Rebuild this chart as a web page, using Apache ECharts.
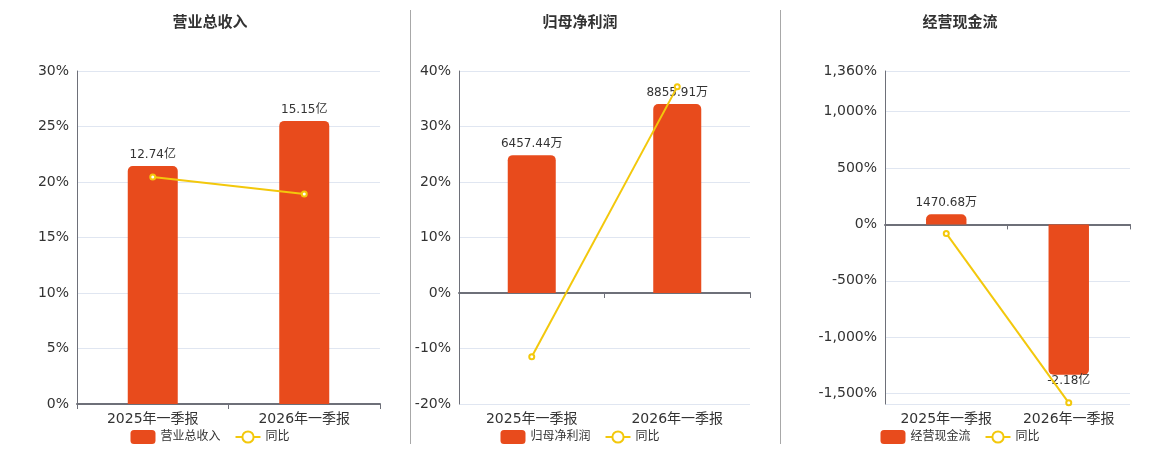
<!DOCTYPE html>
<html>
<head>
<meta charset="utf-8">
<title>季报</title>
<script src="https://cdn.jsdelivr.net/npm/echarts@6/dist/echarts.min.js"></script>
<style>
  html, body { margin: 0; padding: 0; background: #fff; }
  #wrap { position: relative; width: 1160px; height: 450px; }
  .panel { position: absolute; top: 0; height: 450px; }
  .sep { position: absolute; top: 10px; height: 434px; width: 1px; background: #a8a8a8; }
</style>
</head>
<body>
<div id="wrap">
  <div id="chart1" class="panel" style="left:0;width:420px"></div>
  <div id="chart2" class="panel" style="left:400px;width:360px"></div>
  <div id="chart3" class="panel" style="left:780px;width:360px"></div>
  <div class="sep" style="left:410px"></div>
  <div class="sep" style="left:780px"></div>
</div>
<script>
// 数据
var categories = ['2025年一季报', '2026年一季报'];

var revenue = [12.74, 15.15];          // 亿
var revenueYoy = [20.44, 18.92];       // %

var netProfit = [6457.44, 8855.91];    // 万
var netProfitYoy = [-11.5, 37.14];     // %

var cashFlow = [1470.68, -21800];      // 万
var cashFlowYoy = [-80, -1582];        // %

var FONT = '"DejaVu Sans", "Noto Sans CJK SC", sans-serif';
var BAR_COLOR = '#E84B1C';
var LINE_COLOR = '#F3C80C';

function fmtWan(v) {
    if (Math.abs(v) >= 10000) return (v / 10000).toFixed(2) + '亿';
    return v.toFixed(2) + '万';
}

function pctLabel(v) {
    return v.toLocaleString('en-US') + '%';
}

// 生成单个面板的配置
function makeOption(cfg) {
    return {
        animation: false,
        textStyle: { fontFamily: FONT },
        title: {
            text: cfg.title,
            left: 'center',
            top: 11,
            textStyle: { fontSize: 15, fontWeight: 'bold', color: '#333', fontFamily: FONT }
        },
        legend: {
            left: 'center',
            top: 425,
            itemWidth: 25,
            itemHeight: 14,
            itemGap: 14,
            textStyle: { fontSize: 12, color: '#333', fontFamily: FONT },
            data: [
                { name: cfg.name, icon: 'roundRect' },
                { name: '同比' }
            ]
        },
        grid: {
            left: cfg.gridLeft,
            width: cfg.gridWidth,
            top: 71,
            height: 333,
            containLabel: false
        },
        xAxis: [
            {
                type: 'category',
                data: categories,
                position: 'bottom',
                axisLine: { show: false, onZero: false },
                axisTick: { show: false },
                axisLabel: { fontSize: 14, color: '#333', margin: 8, fontFamily: FONT }
            },
            {
                type: 'category',
                data: categories,
                position: 'bottom',
                axisLine: { show: true, onZero: true, onZeroAxisIndex: 0, lineStyle: { color: '#6E7079', width: 2 } },
                axisTick: { show: true, lineStyle: { color: '#6E7079' } },
                axisLabel: { show: false }
            }
        ],
        yAxis: [
            {
                type: 'value',
                min: cfg.pctMin,
                max: cfg.pctMax,
                interval: cfg.pctInterval,
                axisLine: { show: true, lineStyle: { color: '#6E7079' } },
                axisTick: { show: false },
                axisLabel: {
                    fontSize: 14, color: '#333', fontFamily: FONT,
                    showMinLabel: cfg.showMinLabel,
                    formatter: pctLabel
                },
                splitLine: { lineStyle: { color: '#E0E6F1' } }
            },
            {
                type: 'value',
                min: cfg.barMin,
                max: cfg.barMax,
                show: false,
                splitLine: { show: false }
            }
        ],
        series: [
            {
                name: cfg.name,
                type: 'bar',
                xAxisIndex: 0,
                yAxisIndex: 1,
                barWidth: '33%',
                itemStyle: { color: BAR_COLOR },
                data: cfg.bars.map(function (v) {
                    return {
                        value: v,
                        itemStyle: { borderRadius: v < 0 ? [0, 0, 5, 5] : [5, 5, 0, 0] },
                        label: v < 0 ? { position: 'bottom', distance: 0 } : { position: 'top', distance: 5 }
                    };
                }),
                label: {
                    show: true,
                    fontSize: 12,
                    color: '#333',
                    fontFamily: FONT,
                    formatter: function (p) { return cfg.barLabel(p.value); }
                }
            },
            {
                name: '同比',
                type: 'line',
                xAxisIndex: 0,
                yAxisIndex: 0,
                symbol: 'emptyCircle',
                symbolSize: 5,
                z: 5,
                itemStyle: { color: LINE_COLOR, borderWidth: 1.5 },
                lineStyle: { color: LINE_COLOR, width: 2 },
                data: cfg.yoy
            }
        ]
    };
}

var chart1 = echarts.init(document.getElementById('chart1'));
var chart2 = echarts.init(document.getElementById('chart2'));
var chart3 = echarts.init(document.getElementById('chart3'));

chart1.setOption(makeOption({
    title: '营业总收入', name: '营业总收入',
    gridLeft: 77, gridWidth: 303,
    pctMin: 0, pctMax: 30, pctInterval: 5, showMinLabel: true,
    barMin: 0, barMax: 17.82,
    bars: revenue, yoy: revenueYoy,
    barLabel: function (v) { return v.toFixed(2) + '亿'; }
}));

chart2.setOption(makeOption({
    title: '归母净利润', name: '归母净利润',
    gridLeft: 59, gridWidth: 291,
    pctMin: -20, pctMax: 40, pctInterval: 10, showMinLabel: true,
    barMin: -5200, barMax: 10400,
    bars: netProfit, yoy: netProfitYoy,
    barLabel: fmtWan
}));

chart3.setOption(makeOption({
    title: '经营现金流', name: '经营现金流',
    gridLeft: 105, gridWidth: 245,
    pctMin: -1592, pctMax: 1360, pctInterval: null, showMinLabel: false,
    barMin: -26030, barMax: 22236,
    bars: cashFlow, yoy: cashFlowYoy,
    barLabel: fmtWan
}));
</script>
</body>
</html>
